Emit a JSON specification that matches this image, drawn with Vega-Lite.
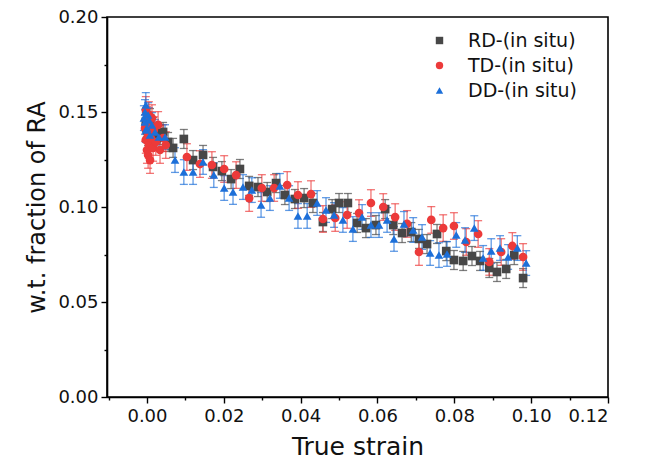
{
  "$schema": "https://vega.github.io/schema/vega-lite/v6.json",
  "width": 501,
  "height": 380,
  "autosize": {"type": "none"},
  "padding": {"left": 107, "top": 17, "right": 41, "bottom": 69},
  "background": "white",
  "config": {
    "view": {"stroke": "black", "strokeWidth": 1.6},
    "font": "DejaVu Sans",
    "axis": {"domainColor": "black", "domainWidth": 1.6, "tickColor": "black", "tickWidth": 1.4, "grid": false, "labelColor": "#111", "titleColor": "#111", "labelFont": "DejaVu Sans", "titleFont": "DejaVu Sans", "titleFontWeight": "normal"}
  },
  "resolve": {"axis": {"x": "independent", "y": "independent"}, "legend": {"color": "independent", "shape": "independent"}},
  "datasets": {
    "pts": [
      {"s":"RD-(in situ)","x":-0.0003,"y":0.1447,"e":0.005},{"s":"RD-(in situ)","x":0,"y":0.1405,"e":0.005},{"s":"RD-(in situ)","x":0.0003,"y":0.1374,"e":0.005},{"s":"RD-(in situ)","x":0.0005,"y":0.1426,"e":0.005},{"s":"RD-(in situ)","x":0.0008,"y":0.1468,"e":0.005},{"s":"RD-(in situ)","x":0.001,"y":0.1353,"e":0.005},{"s":"RD-(in situ)","x":0.0016,"y":0.1421,"e":0.005},{"s":"RD-(in situ)","x":0.0021,"y":0.1389,"e":0.005},{"s":"RD-(in situ)","x":0.0026,"y":0.1363,"e":0.005},{"s":"RD-(in situ)","x":0.0034,"y":0.1379,"e":0.005},{"s":"RD-(in situ)","x":0.0042,"y":0.1395,"e":0.005},{"s":"RD-(in situ)","x":0.0055,"y":0.1342,"e":0.005},{"s":"RD-(in situ)","x":0.0068,"y":0.1311,"e":0.005},{"s":"RD-(in situ)","x":0.0096,"y":0.1358,"e":0.005},{"s":"RD-(in situ)","x":0.012,"y":0.1247,"e":0.005},{"s":"RD-(in situ)","x":0.0146,"y":0.1274,"e":0.005},{"s":"RD-(in situ)","x":0.0172,"y":0.1211,"e":0.005},{"s":"RD-(in situ)","x":0.0195,"y":0.1189,"e":0.005},{"s":"RD-(in situ)","x":0.0219,"y":0.1147,"e":0.005},{"s":"RD-(in situ)","x":0.0242,"y":0.12,"e":0.005},{"s":"RD-(in situ)","x":0.0266,"y":0.1111,"e":0.005},{"s":"RD-(in situ)","x":0.0289,"y":0.1105,"e":0.005},{"s":"RD-(in situ)","x":0.0313,"y":0.1079,"e":0.005},{"s":"RD-(in situ)","x":0.0336,"y":0.1126,"e":0.005},{"s":"RD-(in situ)","x":0.0359,"y":0.1063,"e":0.005},{"s":"RD-(in situ)","x":0.0385,"y":0.1042,"e":0.005},{"s":"RD-(in situ)","x":0.0409,"y":0.1047,"e":0.005},{"s":"RD-(in situ)","x":0.0432,"y":0.1021,"e":0.005},{"s":"RD-(in situ)","x":0.0458,"y":0.0921,"e":0.005},{"s":"RD-(in situ)","x":0.0482,"y":0.0989,"e":0.005},{"s":"RD-(in situ)","x":0.05,"y":0.1021,"e":0.005},{"s":"RD-(in situ)","x":0.0523,"y":0.1021,"e":0.005},{"s":"RD-(in situ)","x":0.0547,"y":0.0916,"e":0.005},{"s":"RD-(in situ)","x":0.057,"y":0.0889,"e":0.005},{"s":"RD-(in situ)","x":0.0596,"y":0.0905,"e":0.005},{"s":"RD-(in situ)","x":0.062,"y":0.0989,"e":0.005},{"s":"RD-(in situ)","x":0.0641,"y":0.0905,"e":0.005},{"s":"RD-(in situ)","x":0.0664,"y":0.0863,"e":0.005},{"s":"RD-(in situ)","x":0.0688,"y":0.0868,"e":0.005},{"s":"RD-(in situ)","x":0.0708,"y":0.0832,"e":0.005},{"s":"RD-(in situ)","x":0.0729,"y":0.0805,"e":0.005},{"s":"RD-(in situ)","x":0.0755,"y":0.0858,"e":0.005},{"s":"RD-(in situ)","x":0.0779,"y":0.0768,"e":0.005},{"s":"RD-(in situ)","x":0.0799,"y":0.0721,"e":0.005},{"s":"RD-(in situ)","x":0.0823,"y":0.0716,"e":0.005},{"s":"RD-(in situ)","x":0.0846,"y":0.0742,"e":0.005},{"s":"RD-(in situ)","x":0.0867,"y":0.0716,"e":0.005},{"s":"RD-(in situ)","x":0.0891,"y":0.0679,"e":0.005},{"s":"RD-(in situ)","x":0.0911,"y":0.0658,"e":0.005},{"s":"RD-(in situ)","x":0.0935,"y":0.0674,"e":0.005},{"s":"RD-(in situ)","x":0.0956,"y":0.0747,"e":0.005},{"s":"RD-(in situ)","x":0.0979,"y":0.0626,"e":0.005},

      {"s":"TD-(in situ)","x":-0.0005,"y":0.1416,"e":0.007},{"s":"TD-(in situ)","x":-0.0003,"y":0.1353,"e":0.007},{"s":"TD-(in situ)","x":-0.0003,"y":0.1511,"e":0.007},{"s":"TD-(in situ)","x":0,"y":0.13,"e":0.007},{"s":"TD-(in situ)","x":0,"y":0.1458,"e":0.007},{"s":"TD-(in situ)","x":0.0003,"y":0.1379,"e":0.007},{"s":"TD-(in situ)","x":0.0003,"y":0.1274,"e":0.007},{"s":"TD-(in situ)","x":0.0005,"y":0.1484,"e":0.007},{"s":"TD-(in situ)","x":0.0005,"y":0.1326,"e":0.007},{"s":"TD-(in situ)","x":0.0008,"y":0.1432,"e":0.007},{"s":"TD-(in situ)","x":0.0008,"y":0.1247,"e":0.007},{"s":"TD-(in situ)","x":0.001,"y":0.1363,"e":0.007},{"s":"TD-(in situ)","x":0.0013,"y":0.1468,"e":0.007},{"s":"TD-(in situ)","x":0.0016,"y":0.1311,"e":0.007},{"s":"TD-(in situ)","x":0.0018,"y":0.1405,"e":0.007},{"s":"TD-(in situ)","x":0.0023,"y":0.1342,"e":0.007},{"s":"TD-(in situ)","x":0.0029,"y":0.1432,"e":0.007},{"s":"TD-(in situ)","x":0.0034,"y":0.13,"e":0.007},{"s":"TD-(in situ)","x":0.0042,"y":0.1363,"e":0.007},{"s":"TD-(in situ)","x":0.0049,"y":0.1326,"e":0.007},{"s":"TD-(in situ)","x":0.0104,"y":0.1263,"e":0.007},{"s":"TD-(in situ)","x":0.0138,"y":0.1226,"e":0.007},{"s":"TD-(in situ)","x":0.0169,"y":0.1221,"e":0.007},{"s":"TD-(in situ)","x":0.0201,"y":0.12,"e":0.007},{"s":"TD-(in situ)","x":0.0232,"y":0.1168,"e":0.007},{"s":"TD-(in situ)","x":0.0266,"y":0.1047,"e":0.007},{"s":"TD-(in situ)","x":0.0299,"y":0.11,"e":0.007},{"s":"TD-(in situ)","x":0.0331,"y":0.11,"e":0.007},{"s":"TD-(in situ)","x":0.0365,"y":0.1116,"e":0.007},{"s":"TD-(in situ)","x":0.0393,"y":0.1063,"e":0.007},{"s":"TD-(in situ)","x":0.0427,"y":0.1068,"e":0.007},{"s":"TD-(in situ)","x":0.0458,"y":0.0937,"e":0.007},{"s":"TD-(in situ)","x":0.049,"y":0.0942,"e":0.007},{"s":"TD-(in situ)","x":0.0521,"y":0.0958,"e":0.007},{"s":"TD-(in situ)","x":0.0552,"y":0.0968,"e":0.007},{"s":"TD-(in situ)","x":0.0583,"y":0.1021,"e":0.007},{"s":"TD-(in situ)","x":0.0615,"y":0.1,"e":0.007},{"s":"TD-(in situ)","x":0.0646,"y":0.0947,"e":0.007},{"s":"TD-(in situ)","x":0.0677,"y":0.0911,"e":0.007},{"s":"TD-(in situ)","x":0.0708,"y":0.0763,"e":0.007},{"s":"TD-(in situ)","x":0.074,"y":0.0932,"e":0.007},{"s":"TD-(in situ)","x":0.0771,"y":0.0889,"e":0.007},{"s":"TD-(in situ)","x":0.0799,"y":0.09,"e":0.007},{"s":"TD-(in situ)","x":0.0831,"y":0.0816,"e":0.007},{"s":"TD-(in situ)","x":0.0862,"y":0.0858,"e":0.007},{"s":"TD-(in situ)","x":0.0891,"y":0.0711,"e":0.007},{"s":"TD-(in situ)","x":0.0922,"y":0.0763,"e":0.007},{"s":"TD-(in situ)","x":0.0951,"y":0.0795,"e":0.007},{"s":"TD-(in situ)","x":0.0979,"y":0.0737,"e":0.007},

      {"s":"DD-(in situ)","x":-0.0008,"y":0.1468,"e":0.0065},{"s":"DD-(in situ)","x":-0.0005,"y":0.15,"e":0.0065},{"s":"DD-(in situ)","x":-0.0005,"y":0.1447,"e":0.0065},{"s":"DD-(in situ)","x":-0.0003,"y":0.1537,"e":0.0065},{"s":"DD-(in situ)","x":-0.0003,"y":0.1405,"e":0.0065},{"s":"DD-(in situ)","x":0,"y":0.1416,"e":0.0065},{"s":"DD-(in situ)","x":0.0003,"y":0.1484,"e":0.0065},{"s":"DD-(in situ)","x":0.0005,"y":0.1458,"e":0.0065},{"s":"DD-(in situ)","x":0.0008,"y":0.1379,"e":0.0065},{"s":"DD-(in situ)","x":0.0013,"y":0.1432,"e":0.0065},{"s":"DD-(in situ)","x":0.0021,"y":0.1395,"e":0.0065},{"s":"DD-(in situ)","x":0.0031,"y":0.1368,"e":0.0065},{"s":"DD-(in situ)","x":0.0047,"y":0.1368,"e":0.0065},{"s":"DD-(in situ)","x":0.0073,"y":0.1247,"e":0.0065},{"s":"DD-(in situ)","x":0.0096,"y":0.1184,"e":0.0065},{"s":"DD-(in situ)","x":0.012,"y":0.1184,"e":0.0065},{"s":"DD-(in situ)","x":0.0146,"y":0.1237,"e":0.0065},{"s":"DD-(in situ)","x":0.0174,"y":0.1168,"e":0.0065},{"s":"DD-(in situ)","x":0.0201,"y":0.11,"e":0.0065},{"s":"DD-(in situ)","x":0.0224,"y":0.1079,"e":0.0065},{"s":"DD-(in situ)","x":0.025,"y":0.1105,"e":0.0065},{"s":"DD-(in situ)","x":0.0273,"y":0.1089,"e":0.0065},{"s":"DD-(in situ)","x":0.0297,"y":0.1011,"e":0.0065},{"s":"DD-(in situ)","x":0.032,"y":0.1047,"e":0.0065},{"s":"DD-(in situ)","x":0.0346,"y":0.1111,"e":0.0065},{"s":"DD-(in situ)","x":0.037,"y":0.1047,"e":0.0065},{"s":"DD-(in situ)","x":0.0393,"y":0.0953,"e":0.0065},{"s":"DD-(in situ)","x":0.0417,"y":0.0953,"e":0.0065},{"s":"DD-(in situ)","x":0.0443,"y":0.1021,"e":0.0065},{"s":"DD-(in situ)","x":0.0466,"y":0.0984,"e":0.0065},{"s":"DD-(in situ)","x":0.0487,"y":0.0958,"e":0.0065},{"s":"DD-(in situ)","x":0.051,"y":0.0932,"e":0.0065},{"s":"DD-(in situ)","x":0.0536,"y":0.0884,"e":0.0065},{"s":"DD-(in situ)","x":0.056,"y":0.0947,"e":0.0065},{"s":"DD-(in situ)","x":0.0583,"y":0.0905,"e":0.0065},{"s":"DD-(in situ)","x":0.0604,"y":0.0905,"e":0.0065},{"s":"DD-(in situ)","x":0.0625,"y":0.0932,"e":0.0065},{"s":"DD-(in situ)","x":0.0643,"y":0.0832,"e":0.0065},{"s":"DD-(in situ)","x":0.0669,"y":0.0911,"e":0.0065},{"s":"DD-(in situ)","x":0.0693,"y":0.0879,"e":0.0065},{"s":"DD-(in situ)","x":0.0716,"y":0.0842,"e":0.0065},{"s":"DD-(in situ)","x":0.0737,"y":0.0758,"e":0.0065},{"s":"DD-(in situ)","x":0.076,"y":0.0747,"e":0.0065},{"s":"DD-(in situ)","x":0.0781,"y":0.0753,"e":0.0065},{"s":"DD-(in situ)","x":0.0805,"y":0.0853,"e":0.0065},{"s":"DD-(in situ)","x":0.0828,"y":0.0826,"e":0.0065},{"s":"DD-(in situ)","x":0.0852,"y":0.0889,"e":0.0065},{"s":"DD-(in situ)","x":0.0875,"y":0.0732,"e":0.0065},{"s":"DD-(in situ)","x":0.0896,"y":0.0768,"e":0.0065},{"s":"DD-(in situ)","x":0.0919,"y":0.0784,"e":0.0065},{"s":"DD-(in situ)","x":0.094,"y":0.0737,"e":0.0065},{"s":"DD-(in situ)","x":0.0964,"y":0.0784,"e":0.0065},{"s":"DD-(in situ)","x":0.0987,"y":0.0705,"e":0.0065}
    ]
  },
  "data": {"name": "pts"},
  "layer": [
    {
      "mark": {"type": "errorbar", "ticks": {"size": 8}, "opacity": 0.7, "thickness": 1.3},
      "encoding": {
        "x": {"field": "x", "type": "quantitative", "scale": {"domain": [-0.0104, 0.12], "nice": false, "zero": false},
          "axis": {"orient": "bottom", "values": [0, 0.02, 0.04, 0.06, 0.08, 0.1, 0.12], "format": ".2f", "tickSize": 6, "labelFontSize": 18, "labelPadding": 4, "title": "True strain", "titleFontSize": 25, "titlePadding": 9}},
        "y": {"field": "y", "type": "quantitative", "scale": {"domain": [0, 0.2], "nice": false},
          "axis": {"orient": "left", "values": [0, 0.05, 0.1, 0.15, 0.2], "format": ".2f", "tickSize": 6, "labelFontSize": 18, "labelPadding": 3, "title": "w.t. fraction of RA", "titleFontSize": 24, "titlePadding": 8}},
        "yError": {"field": "e"},
        "color": {"field": "s", "type": "nominal", "legend": null,
          "scale": {"domain": ["RD-(in situ)", "TD-(in situ)", "DD-(in situ)"], "range": ["#474747", "#ec3a3a", "#1c6fd9"]}}
      }
    },
    {
      "mark": {"type": "point", "filled": true, "opacity": 1, "size": 75},
      "encoding": {
        "x": {"field": "x", "type": "quantitative",
          "axis": {"orient": "bottom", "values": [-0.01, 0.01, 0.03, 0.05, 0.07, 0.09, 0.11], "labels": false, "tickSize": 3, "domain": false, "title": null}},
        "y": {"field": "y", "type": "quantitative",
          "axis": {"orient": "left", "values": [0.025, 0.075, 0.125, 0.175], "labels": false, "tickSize": 3, "domain": false, "title": null}},
        "color": {"field": "s", "type": "nominal", "sort": ["RD-(in situ)", "TD-(in situ)", "DD-(in situ)"],
          "scale": {"domain": ["RD-(in situ)", "TD-(in situ)", "DD-(in situ)"], "range": ["#474747", "#ec3a3a", "#1c6fd9"]},
          "legend": {"orient": "none", "legendX": 323, "legendY": 14, "title": null, "labelFontSize": 19, "labelFont": "DejaVu Sans", "labelColor": "#111", "symbolSize": 55, "rowPadding": 5, "labelOffset": 19}},
        "shape": {"field": "s", "type": "nominal", "sort": ["RD-(in situ)", "TD-(in situ)", "DD-(in situ)"],
          "scale": {"domain": ["RD-(in situ)", "TD-(in situ)", "DD-(in situ)"], "range": ["square", "circle", "triangle-up"]}}
      }
    }
  ]
}
